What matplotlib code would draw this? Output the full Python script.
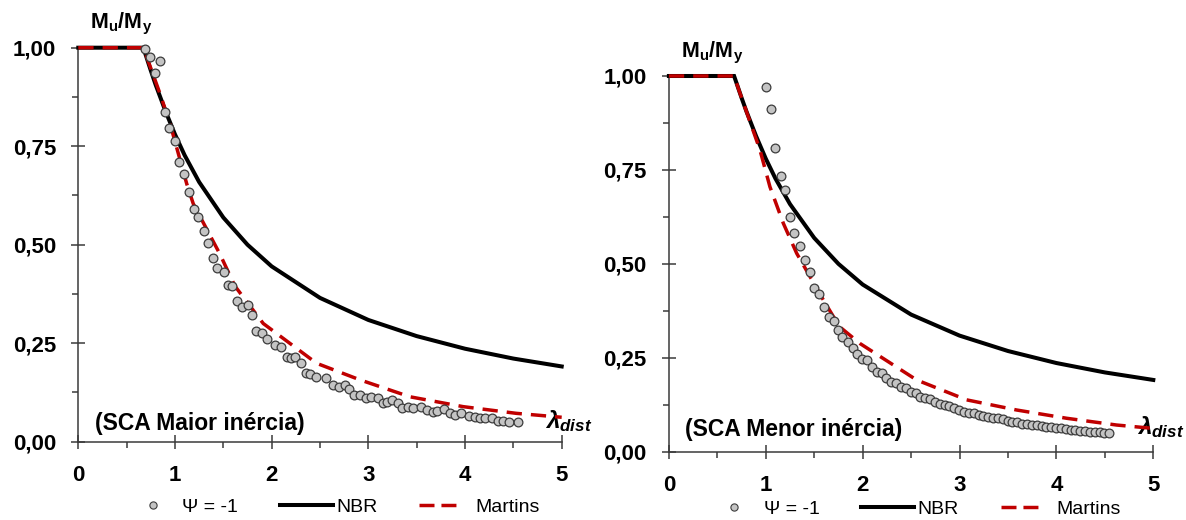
import matplotlib
matplotlib.use("Agg")
import matplotlib.pyplot as plt
from matplotlib.lines import Line2D
from matplotlib.ticker import FixedLocator, FixedFormatter

plt.rcParams['font.family'] = ['Liberation Sans', 'DejaVu Sans']
plt.rcParams['mathtext.fontset'] = 'custom'
plt.rcParams['mathtext.rm'] = 'Liberation Sans'
plt.rcParams['mathtext.bf'] = 'Liberation Sans:bold'
plt.rcParams['mathtext.it'] = 'Liberation Sans:italic:bold'
plt.rcParams['lines.scale_dashes'] = False

# ---------------- data ----------------
x_ticks = [0, 1, 2, 3, 4, 5]
x_ticklabels = ['0', '1', '2', '3', '4', '5']
y_ticks = [0.0, 0.25, 0.5, 0.75, 1.0]
y_ticklabels = ['0,00', '0,25', '0,50', '0,75', '1,00']

nbr_x = [0, 0.673, 0.75, 0.8, 0.9, 1.0, 1.1, 1.25, 1.5, 1.75, 2.0, 2.5, 3.0, 3.5, 4.0, 4.5, 5.0]
nbr_y = [1.0, 1.0, 0.942, 0.906, 0.840, 0.780, 0.727, 0.659, 0.569, 0.500, 0.445, 0.365, 0.309, 0.268, 0.236, 0.211, 0.191]

martins_maior_x = [0, 0.673, 0.844, 0.948, 1.121, 1.189, 1.465, 1.62, 1.913, 2.465, 2.913, 3.43, 3.98, 4.53, 5.0]
martins_maior_y = [1.0, 1.0, 0.884, 0.808, 0.655, 0.604, 0.476, 0.395, 0.300, 0.199, 0.157, 0.114, 0.089, 0.072, 0.062]

martins_menor_x = [0, 0.673, 0.734, 0.94, 1.043, 1.181, 1.319, 1.594, 1.76, 1.972, 2.557, 3.073, 3.589, 4.105, 4.621, 5.0]
martins_menor_y = [1.0, 1.0, 0.954, 0.803, 0.705, 0.608, 0.528, 0.404, 0.333, 0.288, 0.191, 0.138, 0.111, 0.089, 0.071, 0.062]

psi_maior_x = [0.692, 0.739, 0.842, 0.794, 0.897, 0.941, 0.996, 1.04, 1.095, 1.142, 1.194, 1.241, 1.300,
               1.344, 1.391, 1.439, 1.502, 1.549, 1.589, 1.640, 1.696, 1.751, 1.794, 1.838, 1.897, 1.953,
               2.036, 2.095, 2.154, 2.202, 2.241, 2.300, 2.352, 2.399, 2.459, 2.557, 2.636, 2.696, 2.755,
               2.802, 2.854, 2.913, 2.972, 3.032, 3.103, 3.150, 3.198, 3.249, 3.308, 3.348, 3.407, 3.466,
               3.545, 3.605, 3.664, 3.715, 3.783, 3.842, 3.901, 3.960, 4.04, 4.10, 4.158, 4.209, 4.277,
               4.336, 4.395, 4.455, 4.553]
psi_maior_y = [0.997, 0.977, 0.966, 0.937, 0.838, 0.797, 0.764, 0.709, 0.679, 0.633, 0.591, 0.571, 0.535,
               0.505, 0.465, 0.442, 0.430, 0.398, 0.395, 0.358, 0.343, 0.347, 0.321, 0.281, 0.277, 0.260,
               0.245, 0.241, 0.214, 0.212, 0.216, 0.199, 0.175, 0.173, 0.165, 0.161, 0.144, 0.140, 0.144,
               0.135, 0.118, 0.118, 0.110, 0.114, 0.110, 0.097, 0.102, 0.106, 0.097, 0.085, 0.087, 0.085,
               0.087, 0.080, 0.076, 0.079, 0.082, 0.072, 0.068, 0.072, 0.065, 0.063, 0.059, 0.059, 0.059,
               0.053, 0.053, 0.051, 0.051]

psi_menor_x = [1.0, 1.05, 1.096, 1.154, 1.2, 1.25, 1.296, 1.35, 1.4, 1.454, 1.496, 1.546, 1.6, 1.65, 1.7,
               1.742, 1.79, 1.846, 1.9, 1.946, 1.996, 2.046, 2.096, 2.146, 2.196, 2.246, 2.296, 2.346,
               2.396, 2.446, 2.496, 2.546, 2.596, 2.646, 2.696, 2.746, 2.796, 2.846, 2.896, 2.946, 2.996,
               3.046, 3.096, 3.146, 3.196, 3.246, 3.296, 3.346, 3.396, 3.446, 3.496, 3.546, 3.596, 3.646,
               3.696, 3.746, 3.796, 3.846, 3.896, 3.946, 3.996, 4.046, 4.096, 4.146, 4.196, 4.246, 4.296,
               4.346, 4.396, 4.446, 4.496, 4.54]
psi_menor_y = [0.970, 0.911, 0.809, 0.735, 0.697, 0.626, 0.583, 0.547, 0.510, 0.479, 0.437, 0.421, 0.386,
               0.359, 0.349, 0.324, 0.306, 0.293, 0.277, 0.260, 0.248, 0.244, 0.226, 0.213, 0.209, 0.195,
               0.186, 0.182, 0.173, 0.169, 0.160, 0.157, 0.146, 0.142, 0.139, 0.133, 0.127, 0.124, 0.122,
               0.115, 0.111, 0.106, 0.102, 0.102, 0.098, 0.095, 0.093, 0.091, 0.089, 0.086, 0.083, 0.080,
               0.078, 0.075, 0.074, 0.072, 0.070, 0.068, 0.067, 0.065, 0.063, 0.062, 0.060, 0.059, 0.058,
               0.056, 0.055, 0.053, 0.052, 0.052, 0.051, 0.049]

legend_labels = ['\u03A8 = -1', 'NBR', 'Martins']
panel_titles = ['(SCA Maior in\u00e9rcia)', '(SCA Menor in\u00e9rcia)']

# ---------------- style ----------------
W, H = 1186, 520
fig = plt.figure(figsize=(W / 100, H / 100), dpi=100)

RED = '#c00000'
SPINE = '#3a3a3a'
GRAY = '#c4c4c4'
EDGE = '#3c3c3c'

panels = [
    dict(rect=[78.3 / W, 1 - 441.7 / H, 483.4 / W, 394.0 / H],
         psi=(psi_maior_x, psi_maior_y), mart=(martins_maior_x, martins_maior_y),
         title=panel_titles[0], title_y=0.030, leg=(126.0, 507.0)),
    dict(rect=[668.9 / W, 1 - 451.7 / H, 484.4 / W, 375.7 / H],
         psi=(psi_menor_x, psi_menor_y), mart=(martins_menor_x, martins_menor_y),
         title=panel_titles[1], title_y=0.041, leg=(707.5, 509.0)),
]

for p in panels:
    ax = fig.add_axes(p['rect'])
    ax.set_xlim(0, 5)
    ax.set_ylim(0, 1)
    for s in ['top', 'right']:
        ax.spines[s].set_visible(False)
    for s in ['left', 'bottom']:
        ax.spines[s].set_color(SPINE)
        ax.spines[s].set_linewidth(1.1)

    ax.plot(nbr_x, nbr_y, color='black', lw=2.9, zorder=3, clip_on=False,
            solid_joinstyle='miter')
    ax.plot(p['mart'][0], p['mart'][1], color=RED, lw=2.5, dashes=(11, 6.5), zorder=4,
            clip_on=False)
    ax.plot(p['psi'][0], p['psi'][1], linestyle='none', marker='o', ms=6.3,
            mfc=GRAY, mec=EDGE, mew=0.9, zorder=5, clip_on=False)

    ax.xaxis.set_major_locator(FixedLocator(x_ticks))
    ax.xaxis.set_major_formatter(FixedFormatter(x_ticklabels))
    ax.xaxis.set_minor_locator(FixedLocator([0.5, 1.5, 2.5, 3.5, 4.5]))
    ax.yaxis.set_major_locator(FixedLocator(y_ticks))
    ax.yaxis.set_major_formatter(FixedFormatter(y_ticklabels))
    ax.yaxis.set_minor_locator(FixedLocator([0.125, 0.375, 0.625, 0.875]))

    ax.tick_params(which='major', direction='inout', length=10, width=1.1, color=SPINE,
                   labelsize=16)
    ax.tick_params(which='minor', direction='out', length=4.5, width=1.1, color=SPINE)
    ax.tick_params(axis='x', which='major', pad=11.5)
    ax.tick_params(axis='y', which='major', pad=11)
    for lab in ax.get_xticklabels() + ax.get_yticklabels():
        lab.set_fontweight('bold')

    ax.text(0.12, 1.049, r'$\mathbf{M_u/M_y}$', fontsize=15.5, ha='left', va='baseline',
            transform=ax.transData, clip_on=False)
    ax.text(0.168, p['title_y'], p['title'], fontsize=16.5, fontweight='bold',
            ha='left', va='baseline', transform=ax.transData)
    ax.text(4.83, p['title_y'] + 0.005, r'$\lambda_{dist}$', fontsize=17.5, ha='left',
            va='baseline', clip_on=False)

    h_psi = Line2D([], [], linestyle='none', marker='o', ms=5.2, mfc=GRAY, mec=EDGE, mew=0.8)
    h_nbr = Line2D([], [], color='black', lw=2.9)
    h_mar = Line2D([], [], color=RED, lw=2.5, dashes=(10.8, 5, 10.8, 40))
    lx, ly = p['leg']
    fig.legend([h_psi, h_nbr, h_mar], legend_labels, loc='center left',
               bbox_to_anchor=(lx / W, 1 - ly / H), ncol=3, frameon=False,
               fontsize=14, handlelength=2.73, handletextpad=0.15, columnspacing=2.16,
               borderpad=0, borderaxespad=0)

fig.savefig('out.png', dpi=100)
